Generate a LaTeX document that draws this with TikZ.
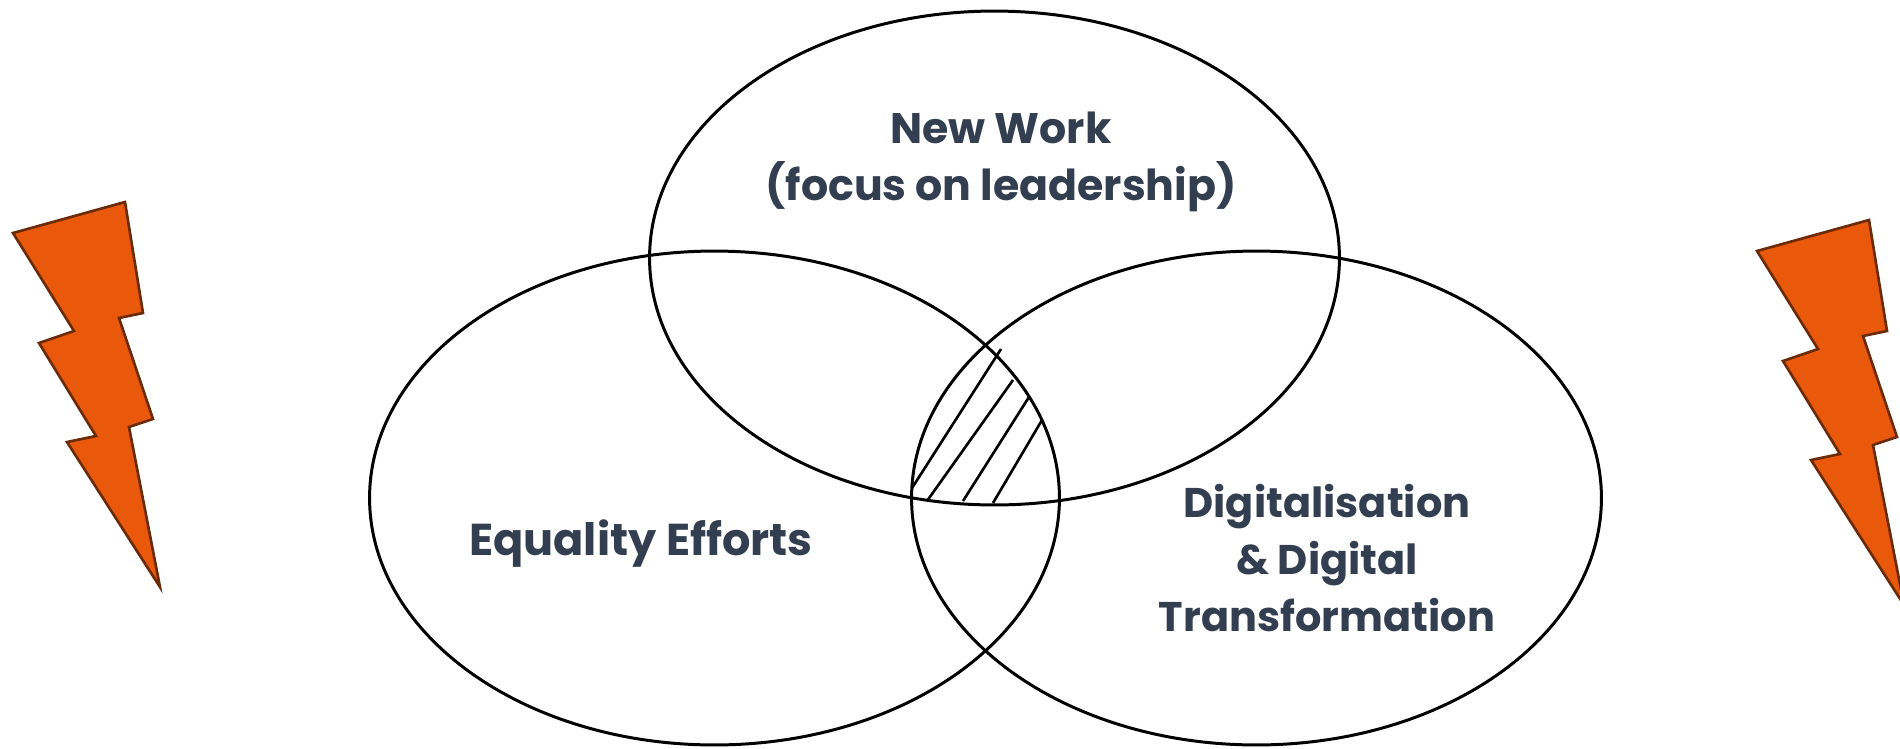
\documentclass[tikz,border=0pt]{standalone}
\usepackage{fontspec}
\setmainfont{Poppins}
\usetikzlibrary{shapes.geometric}
\definecolor{labelblue}{HTML}{333F50}
\definecolor{boltfill}{HTML}{EA580C}
\definecolor{boltedge}{HTML}{6B2A08}
\begin{document}
\begin{tikzpicture}[
        x=0.02cm, y=-0.02cm,
        venn/.style={draw=black, ellipse, line width=1.7pt, minimum width=13.8cm, minimum height=9.88cm, inner sep=0pt, outer sep=0pt},
        lbl/.style={text=labelblue, font=\fontsize{24.3}{32.5}\selectfont\bfseries, align=center, inner sep=0pt},
        bolt/.style={fill=boltfill, draw=boltedge, line width=1.5pt, line join=miter},
        hatch/.style={draw=black, line width=1.5pt},
    ]
    \useasboundingbox (0,0) rectangle (1900,748);
    \node[venn](newwork) at (994.5,258){};
    \node[venn](equality) at (714.5,498){};
    \node[venn](digital) at (1256.5,498){};
    % labels
    \node[lbl](newworktext) at (1001,162){New Work\\(focus on leadership)};
    \node[lbl, font=\fontsize{25.4}{32.5}\selectfont\bfseries](equalitytext) at (641,544){Equality Efforts};
    \node[lbl, font=\fontsize{23.6}{32.3}\selectfont\bfseries](digitaltext) at (1327,558){Digitalisation\\\& Digital\\Transformation};
    % hatching
    \foreach \ax/\ay/\bx/\by in {912/488/1001/349, 927/501/1013/380, 963/501/1029/397, 993/503/1042/420}
        \draw[hatch] (\ax,\ay) -- (\bx,\by);
    % bolts
    \foreach \dx/\dy in {0/0, 1744/18}
        \draw[bolt, shift={(\dx,\dy)}] (13,233) -- (125,202) -- (143,313) -- (119,318) -- (153,419)
            -- (129,427) -- (160,587) -- (67,442) -- (96,436) -- (39,343) -- (74,331) -- cycle;
\end{tikzpicture}
\end{document}
